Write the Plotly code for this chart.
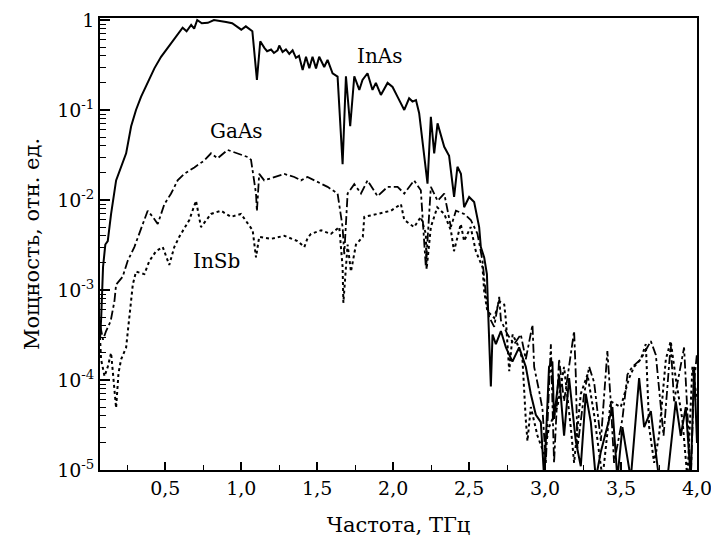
import math
import plotly.graph_objects as go

# ---------------- data ----------------
inas_f = [0.070, 0.078, 0.090, 0.105, 0.121, 0.143, 0.176, 0.209, 0.242, 0.275, 0.307, 0.340, 0.384,
          0.428, 0.472, 0.515, 0.559, 0.592, 0.614, 0.64, 0.67, 0.69, 0.71, 0.74, 0.78, 0.82, 0.86,
          0.90, 0.94, 0.97, 1.00, 1.03, 1.073, 1.103, 1.125, 1.152, 1.17, 1.196, 1.215, 1.239, 1.25,
          1.272, 1.294, 1.316, 1.338, 1.36, 1.38, 1.404, 1.426, 1.448, 1.469, 1.492, 1.513, 1.546,
          1.568, 1.601, 1.634, 1.667, 1.689, 1.717, 1.744, 1.777, 1.798, 1.831, 1.864, 1.886, 1.919,
          1.963, 1.996, 2.029, 2.051, 2.073, 2.105, 2.127, 2.15, 2.171, 2.226, 2.248, 2.27, 2.292,
          2.336, 2.368, 2.401, 2.423, 2.446, 2.467, 2.50, 2.533, 2.566, 2.577, 2.599, 2.617, 2.625,
          2.632, 2.643, 2.654, 2.676, 2.709, 2.742, 2.785, 2.829, 2.873, 2.906, 2.939, 2.972, 2.994,
          3.026, 3.048, 3.059, 3.092, 3.125, 3.158, 3.202, 3.235, 3.268, 3.301, 3.334, 3.367, 3.399,
          3.443, 3.476, 3.509, 3.564, 3.619, 3.652, 3.696, 3.75, 3.805, 3.86, 3.893, 3.926, 3.959,
          3.981, 4.0]
inas_p = [2.8e-4, 5e-4, 1.8e-3, 3.2e-3, 3.5e-3, 7e-3, 0.0165, 0.023, 0.033, 0.066, 0.10, 0.14, 0.20,
          0.29, 0.39, 0.49, 0.60, 0.72, 0.82, 0.75, 0.88, 0.80, 1.0, 0.92, 0.93, 1.0, 0.98,
          0.95, 0.92, 0.85, 0.78, 0.85, 0.75, 0.216, 0.58, 0.49, 0.45, 0.47, 0.43, 0.46, 0.52,
          0.44, 0.47, 0.42, 0.46, 0.38, 0.40, 0.279, 0.39, 0.291, 0.39, 0.29, 0.39, 0.30,
          0.36, 0.256, 0.235, 0.025, 0.237, 0.066, 0.237, 0.167, 0.216, 0.256, 0.167, 0.20, 0.147,
          0.20, 0.18, 0.14, 0.118, 0.10, 0.135, 0.124, 0.129, 0.092, 0.0152, 0.084, 0.033, 0.071,
          0.039, 0.031, 0.0108, 0.0234, 0.0196, 0.0083, 0.0108, 0.0095, 0.0050, 0.0030, 0.0023, 0.0015, 5.8e-4,
          3.2e-4, 8.5e-5, 3.2e-4, 2.5e-4, 3.5e-4, 2.3e-4, 1.6e-4, 2.3e-4, 1.4e-4, 7e-5, 4.1e-5, 3.4e-5, 8e-6,
          1.4e-4, 1.6e-4, 3.7e-5, 1.15e-4, 2.4e-5, 1.05e-4, 2.1e-5, 1.1e-5, 7e-5, 3.4e-5, 8e-6, 1.6e-5, 2.6e-5,
          5e-5, 8e-6, 3e-5, 8e-6, 1.05e-4, 3e-5, 4.5e-5, 8e-6, 8e-6, 5.8e-5, 2.4e-5, 5e-5, 8e-6,
          1.4e-4, 2e-5]

gaas_f = [0.072, 0.09, 0.11, 0.14, 0.165, 0.176, 0.219, 0.252, 0.296, 0.329, 0.384, 0.417, 0.45, 0.494,
          0.538, 0.581, 0.625, 0.691, 0.757, 0.801, 0.844, 0.91, 0.976, 1.042, 1.064, 1.097, 1.103,
          1.118, 1.151, 1.217, 1.283, 1.349, 1.393, 1.436, 1.48, 1.568, 1.634, 1.667, 1.678, 1.70,
          1.744, 1.788, 1.831, 1.897, 1.963, 2.029, 2.073, 2.138, 2.182, 2.215, 2.248, 2.292, 2.336,
          2.38, 2.413, 2.467, 2.511, 2.555, 2.588, 2.61, 2.632, 2.665, 2.698, 2.709, 2.753, 2.796,
          2.84, 2.873, 2.917, 2.928, 2.961, 2.983, 3.005, 3.038, 3.059, 3.092, 3.125, 3.191, 3.202,
          3.213, 3.257, 3.29, 3.323, 3.367, 3.41, 3.432, 3.454, 3.509, 3.542, 3.575, 3.63, 3.674,
          3.696, 3.729, 3.78, 3.827, 3.849, 3.915, 3.937, 3.959, 3.98, 4.0]
gaas_p = [4e-4, 2.8e-4, 3.5e-4, 4.5e-4, 7.5e-4, 1.15e-3, 1.4e-3, 2.1e-3, 3e-3, 4.2e-3, 7.6e-3, 6.5e-3, 5.4e-3, 9e-3,
          0.0118, 0.0165, 0.0195, 0.023, 0.0275, 0.033, 0.029, 0.036, 0.033, 0.030, 0.028, 0.0118, 0.0075,
          0.0195, 0.0165, 0.018, 0.0195, 0.018, 0.0165, 0.018, 0.0165, 0.014, 0.0118, 5e-3, 2.5e-3, 0.0118,
          0.015, 0.0118, 0.0165, 0.011, 0.014, 0.014, 0.0118, 0.0165, 0.0128, 1.8e-3, 0.014, 9.8e-3, 0.0118,
          5e-3, 7.6e-3, 7e-3, 6e-3, 4.2e-3, 2.1e-3, 9e-4, 5e-4, 3.9e-4, 8.4e-4, 4.6e-4, 3.2e-4, 2.5e-4,
          3.2e-4, 1.7e-4, 4.1e-4, 1.4e-4, 7.5e-5, 4.7e-5, 1.2e-5, 2.5e-4, 1.2e-5, 1.7e-4, 5.8e-5, 3.5e-4, 1.15e-4,
          1.75e-5, 7e-5, 1.4e-4, 9.4e-5, 2.1e-5, 2.1e-4, 5.8e-5, 1.2e-5, 3.7e-5, 1.15e-4, 1.4e-4, 1.7e-4, 2.3e-4,
          2.7e-4, 1.9e-4, 2.4e-5, 2.5e-4, 5.8e-5, 2.3e-4, 5e-5, 8e-6, 9e-5, 2e-4]

insb_f = [0.070, 0.077, 0.10, 0.121, 0.143, 0.16, 0.176, 0.192, 0.209, 0.242, 0.264, 0.286, 0.307, 0.362,
          0.395, 0.439, 0.483, 0.526, 0.559, 0.592, 0.658, 0.702, 0.735, 0.801, 0.866, 0.932, 0.998,
          1.042, 1.075, 1.097, 1.118, 1.195, 1.283, 1.37, 1.415, 1.437, 1.459, 1.525, 1.59, 1.645,
          1.667, 1.672, 1.70, 1.722, 1.755, 1.80, 1.81, 1.897, 1.985, 2.051, 2.073, 2.138, 2.182,
          2.215, 2.22, 2.248, 2.29, 2.336, 2.38, 2.40, 2.445, 2.467, 2.51, 2.544, 2.588, 2.599, 2.62,
          2.665, 2.698, 2.731, 2.742, 2.764, 2.786, 2.818, 2.851, 2.873, 2.884, 2.906, 2.95, 2.994,
          3.026, 3.081, 3.125, 3.169, 3.191, 3.235, 3.279, 3.323, 3.378, 3.432, 3.498, 3.553, 3.586,
          3.63, 3.663, 3.685, 3.718, 3.75, 3.795, 3.827, 3.86, 3.904, 3.937, 3.97, 4.0]
insb_p = [3e-4, 1.7e-4, 1.1e-4, 1.4e-4, 2e-4, 1e-4, 4.9e-5, 1.2e-4, 1.7e-4, 2.3e-4, 5e-4, 1.15e-3, 1.6e-3, 1.5e-3,
          2.1e-3, 2.7e-3, 3e-3, 1.9e-3, 3e-3, 3.9e-3, 6e-3, 9.8e-3, 5e-3, 7e-3, 7.6e-3, 6.5e-3, 7e-3,
          5.4e-3, 4.6e-3, 2.3e-3, 3.9e-3, 3.7e-3, 4e-3, 3.5e-3, 3e-3, 3.8e-3, 4.2e-3, 4.6e-3, 4.2e-3, 5e-3,
          1.8e-3, 7.2e-4, 3.2e-3, 1.6e-3, 3.2e-3, 3.9e-3, 6.5e-3, 7e-3, 7.6e-3, 9e-3, 6e-3, 5e-3, 6.5e-3,
          4.2e-3, 1.7e-3, 5e-3, 8.3e-3, 7e-3, 4.6e-3, 2.7e-3, 5.4e-3, 3.5e-3, 5e-3, 2.7e-3, 1.8e-3, 9.7e-4, 5.8e-4,
          4.9e-4, 7.5e-4, 6.9e-4, 4.6e-4, 1.25e-4, 3.2e-4, 2.5e-4, 1.7e-4, 3.6e-5, 2.1e-5, 5e-5, 2.4e-5, 1.5e-5,
          3e-5, 5e-5, 1.4e-4, 3e-5, 1.2e-5, 7e-5, 1.15e-4, 4.1e-5, 8e-6, 5.8e-5, 5e-5, 1.05e-4, 1.4e-4,
          1.7e-4, 2.5e-4, 3e-5, 1.2e-5, 2.4e-5, 1.7e-4, 2.7e-4, 1.05e-4, 3.6e-5, 8e-6, 1.4e-4, 6e-5]

x_ticks = [0.5, 1.0, 1.5, 2.0, 2.5, 3.0, 3.5, 4.0]
x_tick_text = ["0,5", "1,0", "1,5", "2,0", "2,5", "3,0", "3,5", "4,0"]
y_ticks = [1e-5, 1e-4, 1e-3, 1e-2, 1e-1, 1]
y_tick_text = ["10<sup>-5</sup>", "10<sup>-4</sup>", "10<sup>-3</sup>",
               "10<sup>-2</sup>", "10<sup>-1</sup>", "1"]

label_names = ["InAs", "GaAs", "InSb"]
label_f = [1.91, 0.97, 0.84]
label_p = [0.40, 0.058, 2.1e-3]

x_title = "Частота, ТГц"
y_title = "Мощность, отн. ед."

# ---------------- figure ----------------
FONT = "DejaVu Serif"

fig = go.Figure()
fig.add_trace(go.Scatter(x=inas_f, y=inas_p, mode="lines", name="InAs",
                         line=dict(color="black", width=2)))
fig.add_trace(go.Scatter(x=gaas_f, y=gaas_p, mode="lines", name="GaAs",
                         line=dict(color="black", width=1.8, dash="dashdot")))
fig.add_trace(go.Scatter(x=insb_f, y=insb_p, mode="lines", name="InSb",
                         line=dict(color="black", width=2, dash="dot")))

for txt, fx, pv in zip(label_names, label_f, label_p):
    # annotations on a log axis take log10 of the value
    fig.add_annotation(x=fx, y=math.log10(pv), xref="x", yref="y", text=txt,
                       showarrow=False, font=dict(family=FONT, size=20, color="black"))

# minor ticks
x_minor = [0.25 + 0.5 * i for i in range(8)]
y_minor = [m * 10 ** e for e in range(-5, 0) for m in range(2, 10)]

fig.update_xaxes(type="linear", range=[0.07, 4.0],
                 tickmode="array", tickvals=x_ticks, ticktext=x_tick_text,
                 ticklabeloverflow="allow",
                 ticks="inside", ticklen=8, tickwidth=1.5, tickcolor="black",
                 minor=dict(tickmode="array", tickvals=x_minor, ticks="inside", ticklen=5,
                            tickwidth=1.2, tickcolor="black", showgrid=False),
                 showline=True, linecolor="black", linewidth=1.8, mirror=True,
                 showgrid=False, zeroline=False,
                 tickfont=dict(family=FONT, size=19, color="black"),
                 title=dict(text=x_title, font=dict(family=FONT, size=21, color="black"),
                            standoff=20))
fig.update_yaxes(type="log", range=[-5, 0.022],
                 tickmode="array", tickvals=y_ticks, ticktext=y_tick_text,
                 ticklabeloverflow="allow",
                 ticks="inside", ticklen=10, tickwidth=1.5, tickcolor="black",
                 minor=dict(tickmode="array", tickvals=y_minor, ticks="inside", ticklen=6,
                            tickwidth=1.2, tickcolor="black", showgrid=False),
                 showline=True, linecolor="black", linewidth=1.8, mirror=True,
                 showgrid=False, zeroline=False,
                 tickfont=dict(family=FONT, size=19, color="black"),
                 title=dict(text=y_title, font=dict(family=FONT, size=21, color="black"),
                            standoff=12))

fig.update_layout(width=711, height=539, showlegend=False,
                  margin=dict(l=100, r=14, t=18, b=69, autoexpand=False),
                  plot_bgcolor="white", paper_bgcolor="white")

fig.write_html("out.html")
